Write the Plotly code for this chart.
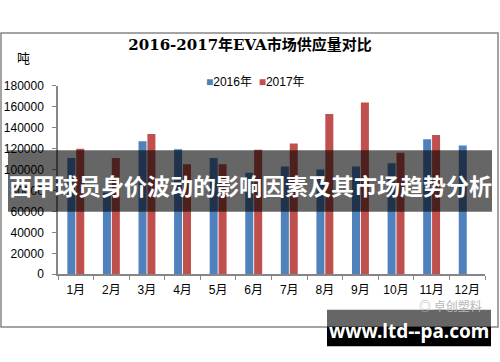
import plotly.graph_objects as go

months = ["1月", "2月", "3月", "4月", "5月", "6月", "7月", "8月", "9月", "10月", "11月", "12月"]
supply_2016 = [111000, 78000, 127000, 119500, 111000, 97000, 103000, 100000, 103000, 106000, 129000, 123000]
supply_2017 = [120000, 111000, 134000, 105000, 105000, 119000, 125000, 153000, 164000, 116000, 133000, None]
y_ticks = [0, 20000, 40000, 60000, 80000, 100000, 120000, 140000, 160000, 180000]

W, H = 500, 362
BLUE = "#4F81BD"
RED = "#C0504D"
CJK = "Liberation Sans, Noto Sans CJK SC, sans-serif"


def py(p):
    return 1 - p / H


def px(p):
    return p / W


fig = go.Figure()
fig.add_trace(go.Bar(x=months, y=supply_2016, name="2016年", marker=dict(color=BLUE, line=dict(width=0))))
fig.add_trace(go.Bar(x=months, y=supply_2017, name="2017年", marker=dict(color=RED, line=dict(width=0))))

shapes = [
    # outer frame
    dict(type="rect", xref="paper", yref="paper", x0=px(1), x1=px(498), y0=py(333), y1=py(27),
         line=dict(color="#868686", width=1.5), fillcolor="rgba(0,0,0,0)", layer="below"),
    # banner
    dict(type="rect", xref="paper", yref="paper", x0=px(8), x1=px(492), y0=py(213), y1=py(149),
         line=dict(width=0), fillcolor="rgba(0,0,0,0.6)", layer="above"),
    # watermark box
    dict(type="rect", xref="paper", yref="paper", x0=px(327), x1=px(491), y0=py(333), y1=py(315),
         line=dict(width=0), fillcolor="rgba(0,0,0,0.6)", layer="above"),
    dict(type="rect", xref="paper", yref="paper", x0=px(327), x1=px(491), y0=py(353), y1=py(333),
         line=dict(width=0), fillcolor="#000000", layer="above"),
]


def ann(text, x, y, size, color, family):
    return dict(text=text, x=px(x), y=py(y), xref="paper", yref="paper", showarrow=False,
                xanchor="center", yanchor="middle", font=dict(size=size, color=color, family=family))


annotations = [
    ann("吨", 23, 54, 13, "#000", CJK),
    ann("<span style='color:%s'>■</span>2016年  <span style='color:%s'>■</span>2017年" % (BLUE, RED),
        255, 78, 12, "#000", CJK),
    ann("<b>西甲球员身价波动的影响因素及其市场趋势分析</b>", 250, 185, 23, "#FFFFFF", "Noto Sans CJK SC"),
    ann("◎ 卓创塑料", 450, 311, 12, "#B8B8B8", "Noto Sans CJK SC"),
    ann("<b>www.ltd--pa.com</b>", 409, 337, 19, "#FFFFFF", "Noto Sans, Open Sans, sans-serif"),
]

fig.update_layout(
    width=W, height=H,
    margin=dict(l=0, r=0, t=0, b=0),
    paper_bgcolor="#FFFFFF", plot_bgcolor="#FFFFFF",
    showlegend=False,
    barmode="group", bargap=0.5, bargroupgap=0.1,
    title=dict(text="<b>2016-2017年EVA市场供应量对比</b>", x=0.5, xanchor="center",
               y=py(45), yanchor="middle", yref="container",
               font=dict(size=15, color="#000", family="DejaVu Serif, Noto Sans CJK SC, serif")),
    xaxis=dict(domain=[px(58), px(485)], showline=True, linecolor="#868686", linewidth=1.5,
               ticks="outside", tickson="boundaries", ticklen=4, tickcolor="#868686",
               tickfont=dict(size=12, color="#000", family=CJK), showgrid=False,
               ticklabelstandoff=4),
    yaxis=dict(domain=[py(278), py(82)], range=[0, 180000], tickvals=y_ticks,
               ticktext=[str(v) for v in y_ticks], showline=True, linecolor="#868686", linewidth=1.5,
               ticks="outside", ticklen=4, tickcolor="#868686", showgrid=False, zeroline=False,
               tickfont=dict(size=12, color="#000", family=CJK), ticklabelstandoff=6),
    shapes=shapes,
    annotations=annotations,
)

fig.write_html("out.html", config={"displayModeBar": False},
               post_script="document.body.style.margin='0';document.body.style.padding='0';")
